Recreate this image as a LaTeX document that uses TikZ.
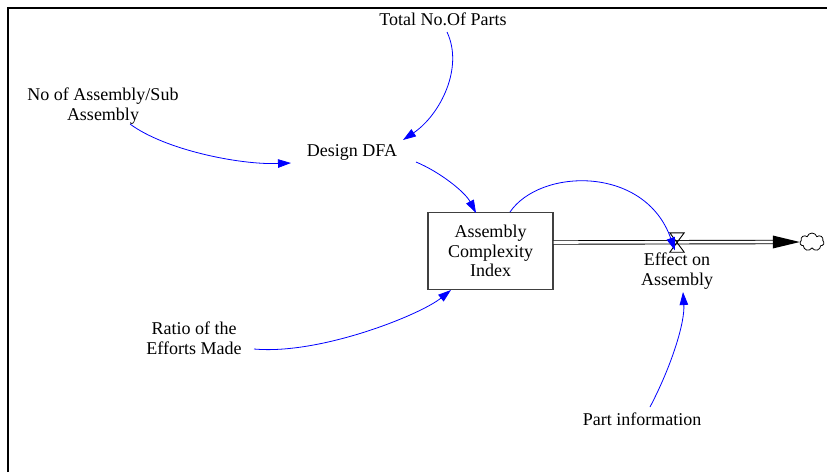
\documentclass[tikz,border=0pt]{standalone}
\usepackage{fontspec}
\setmainfont{Liberation Serif}
\usetikzlibrary{arrows.meta,calc,shapes.symbols}
\begin{document}
\begin{tikzpicture}[x=1pt,y=-1pt,
  lbl/.style={inner sep=1pt,align=center,font=\fontsize{18}{19.5}\selectfont},
  stockbox/.style={draw=black!75,line width=1.2pt,minimum width=125pt,minimum height=77pt,inner sep=0pt,align=center,font=\fontsize{18}{19.5}\selectfont},
  link/.style={draw=blue,line width=0.8pt,-{Triangle[length=13pt,width=8.5pt]},fill=none},
  pipe/.style={draw=black,line width=0.9pt,double=white,double distance=2.6pt}
]
\useasboundingbox (0,0) rectangle (827,472);
\draw[line width=1.8pt] (8,472) -- (8,8) -- (827,8);

\node[lbl] (tot) at (443,19) {Total No.Of Parts};
\node[lbl] (noa) at (103,106) {No of Assembly/Sub\\Assembly};
\node[lbl] (dfa) at (352,152) {Design DFA};
\node[stockbox] (aci) at (490.5,251) {Assembly\\Complexity\\Index};
\node[lbl] (eff) at (677,271) {Effect on\\Assembly};
\node[lbl] (ratio) at (194,338) {Ratio of the\\Efforts Made};
\node[lbl] (part) at (642,419) {Part information};
\node[inner sep=0pt,minimum width=14pt,minimum height=19pt] (valve) at (677,242.5) {};
\node[cloud,draw,cloud puffs=7,line width=0.8pt,minimum width=24pt,minimum height=18pt,inner sep=0pt,aspect=1.35] (cloud) at (812,242) {};

% flow pipe
\draw[pipe] (aci.east |- valve) -- ($(cloud.west)+(-25,0)$);
\fill[black] ($(cloud.west)+(-27,-6.5)$) -- (cloud.west) -- ($(cloud.west)+(-27,6.5)$) -- cycle;
\draw[line width=0.9pt] (valve.north west) -- (valve.north east) -- (valve.south west) -- (valve.south east) -- cycle;

% links
\draw[link] ($(tot)+(4,13)$) .. controls (464,68) and (440,115) .. ($(dfa)+(51,-12)$);
\draw[link] ($(noa)+(27,18)$) .. controls (165,150) and (240,165) .. ($(dfa)+(-61,11)$);
\draw[link] ($(dfa)+(64,10)$) .. controls (440,172) and (465,192) .. ($(aci)+(-14.5,-38)$);
\draw[link] ($(aci)+(19.5,-39)$) .. controls (540,168) and (645,165) .. ($(valve)+(-2,8)$);
\draw[link] ($(ratio)+(60,11)$) .. controls (320,355) and (420,315) .. ($(aci)+(-39.5,39)$);
\draw[link] ($(part)+(8,-12)$) .. controls (672,365) and (685,322) .. ($(eff)+(6,21)$);
\end{tikzpicture}
\end{document}
